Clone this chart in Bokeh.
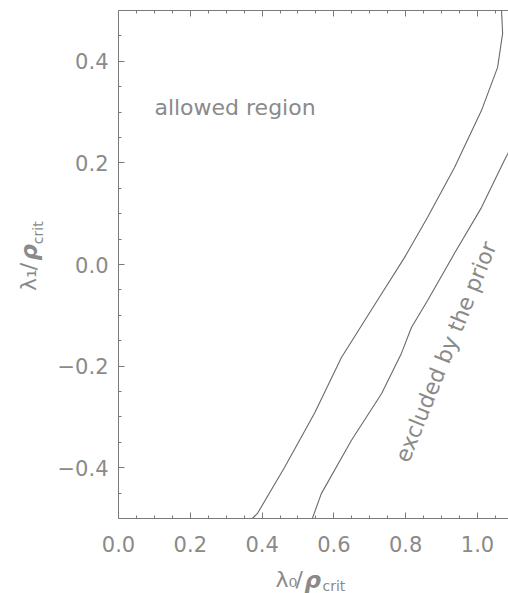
import numpy as np
from bokeh.plotting import figure
from bokeh.layouts import row, column
from bokeh.models import FixedTicker, LinearAxis, Range1d
from bokeh.core.properties import value
from bokeh.embed import file_html
from bokeh.resources import INLINE

# inner contour (boundary of the allowed region)
inner_x = [0.373, 0.387, 0.462, 0.546, 0.621, 0.721, 0.797, 0.861, 0.936, 1.011, 1.056, 1.070, 1.067]
inner_y = [-0.500, -0.490, -0.400, -0.293, -0.183, -0.071, 0.014, 0.093, 0.191, 0.303, 0.388, 0.455, 0.500]

# outer contour (region excluded by the prior)
outer_x = [0.540, 0.565, 0.649, 0.733, 0.788, 0.816, 0.861, 0.936, 1.011, 1.075, 1.086, 1.120]
outer_y = [-0.500, -0.451, -0.346, -0.254, -0.175, -0.124, -0.071, 0.022, 0.112, 0.205, 0.220, 0.268]

x_major = [0.0, 0.2, 0.4, 0.6, 0.8, 1.0]
x_minor = [0.05, 0.10, 0.15, 0.25, 0.30, 0.35, 0.45, 0.50, 0.55, 0.65, 0.70, 0.75,
           0.85, 0.90, 0.95, 1.05]
y_major = [-0.4, -0.2, 0.0, 0.2, 0.4]
y_minor = [-0.45, -0.35, -0.30, -0.25, -0.15, -0.10, -0.05, 0.05, 0.10, 0.15,
           0.25, 0.30, 0.35, 0.45]
y_labels = {-0.4: "\u22120.4", -0.2: "\u22120.2", 0.0: "0.0", 0.2: "0.2", 0.4: "0.4"}

TXT = "#8a8a8a"
AX = "#7a7a7a"
LINE = "#6a6a6a"
FONT = "DejaVu Sans"

YW = 50     # width of the strip holding the y title
XH = 30     # height of the strip holding the x title
W, H = 508, 593
TOPH = H - XH

p = figure(width=W - YW, height=TOPH, output_backend="svg", toolbar_location=None,
           x_range=Range1d(0, 1.0864), y_range=Range1d(-0.5, 0.5),
           min_border_left=118 - YW, min_border_right=0, min_border_top=10,
           min_border_bottom=TOPH - 518)
p.outline_line_color = None
p.xgrid.visible = False
p.ygrid.visible = False

def style(ax):
    ax.axis_line_color = AX
    ax.major_tick_line_color = AX
    ax.minor_tick_line_color = AX
    ax.major_tick_in = 6
    ax.major_tick_out = 0
    ax.minor_tick_in = 3
    ax.minor_tick_out = 0
    ax.major_label_text_color = TXT
    ax.major_label_text_font = FONT
    ax.major_label_text_font_size = "21px"

xa = p.xaxis[0]
xa.ticker = FixedTicker(ticks=x_major, minor_ticks=x_minor)
style(xa)
xa.major_label_standoff = 17
xa.major_label_overrides = {v: f"{v:.1f}" for v in x_major}

ya = p.yaxis[0]
ya.ticker = FixedTicker(ticks=y_major, minor_ticks=y_minor)
style(ya)
ya.major_label_standoff = 10
ya.major_label_overrides = y_labels

top = LinearAxis(ticker=FixedTicker(ticks=x_major, minor_ticks=x_minor))
style(top)
top.major_label_standoff = 0
top.major_label_overrides = {v: "" for v in x_major}
p.add_layout(top, "above")

p.line(inner_x, inner_y, line_color=LINE, line_width=1.1)
p.line(outer_x, outer_y, line_color=LINE, line_width=1.1)

p.text(x=[0.1], y=[0.31], text=["allowed region"], text_font=value(FONT),
       text_font_size="22px", text_color=TXT, text_baseline="middle", text_align="left")
p.text(x=[0.912], y=[-0.172], text=["excluded by the prior"], text_font=value(FONT),
       text_font_size="22px", text_color=TXT, text_baseline="middle", text_align="center",
       angle=np.deg2rad(68))

def strip(width, height, xr, yr):
    f = figure(width=width, height=height, output_backend="svg", toolbar_location=None,
               x_range=Range1d(*xr), y_range=Range1d(*yr),
               x_axis_location=None, y_axis_location=None,
               min_border=0)
    f.outline_line_color = None
    f.xgrid.visible = False
    f.ygrid.visible = False
    return f

# x title strip spans the full page width: data x = page pixel, data y measured up from page bottom
xt = strip(W, XH, (0, W), (0, XH))
def xt_text(x, y, t, size, style="normal"):
    xt.text(x=[x], y=[H - y], text=[t], text_font=value(FONT), text_font_size=size,
            text_font_style=style, text_color=TXT, text_baseline="alphabetic",
            text_align="left")
xt_text(275, 579, "\u03bb\u2080", "22px")
xt_text(295, 579, "/", "22px")
xt_text(304, 579, "\u03c1", "23px", "bold italic")
xt_text(322, 585, "crit", "14px")

# y title strip (left of the chart)
yt = strip(YW, TOPH, (0, YW), (0, TOPH))
def yt_text(x, y, t, size, style="normal"):
    yt.text(x=[x], y=[TOPH - y], text=[t], text_font=value(FONT), text_font_size=size,
            text_font_style=style, text_color=TXT, text_baseline="alphabetic",
            text_align="left", angle=np.pi / 2)
yt_text(28, 311, "\u03bb\u2081", "22px")
yt_text(28, 288, "/", "22px")
yt_text(28, 277, "\u03c1", "23px", "bold italic")
yt_text(37, 259, "crit", "14px")

layout = column(row(yt, p, spacing=0), xt, spacing=0)
open("out.html", "w").write(file_html(layout, INLINE))
